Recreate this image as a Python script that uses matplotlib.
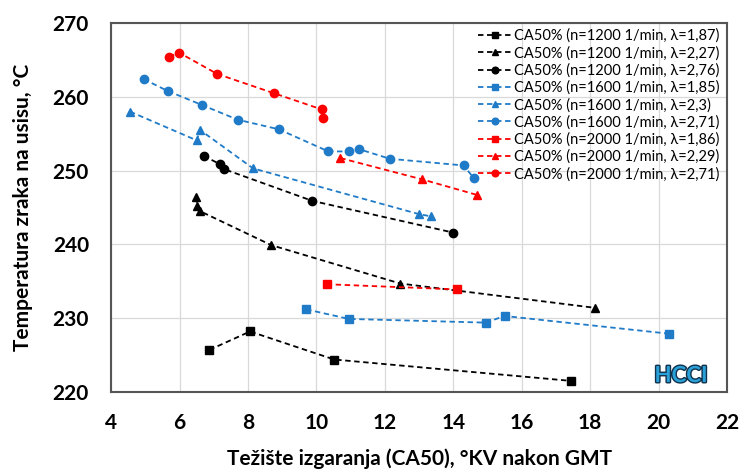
import matplotlib
matplotlib.use('Agg')
import matplotlib.pyplot as plt
import matplotlib.patheffects as pe

plt.rcParams['font.family'] = ['Lato', 'DejaVu Sans']

# --- podaci ---
x_1200_187 = [6.87, 8.06, 10.52, 17.45]
y_1200_187 = [225.7, 228.2, 224.4, 221.5]

x_1200_227 = [6.48, 6.52, 6.6, 8.68, 12.45, 18.15]
y_1200_227 = [246.4, 245.2, 244.5, 239.9, 234.7, 231.4]

x_1200_276 = [6.7, 7.17, 7.3, 9.88, 14.0]
y_1200_276 = [252.0, 250.9, 250.2, 245.9, 241.6]

x_1600_185 = [9.7, 10.95, 14.95, 15.5, 20.3]
y_1600_185 = [231.2, 229.9, 229.4, 230.3, 227.9]

x_1600_23 = [4.55, 6.5, 6.6, 8.15, 13.0, 13.35]
y_1600_23 = [258.0, 254.1, 255.5, 250.3, 244.1, 243.8]

x_1600_271 = [4.95, 5.65, 6.65, 7.7, 8.9, 10.35, 10.95, 11.25, 12.15, 14.3, 14.6]
y_1600_271 = [262.4, 260.8, 258.9, 256.9, 255.6, 252.6, 252.6, 252.9, 251.6, 250.7, 249.0]

x_2000_186 = [10.3, 14.1]
y_2000_186 = [234.6, 233.9]

x_2000_229 = [10.7, 13.1, 14.7]
y_2000_229 = [251.7, 248.8, 246.7]

x_2000_271 = [5.7, 5.98, 7.1, 8.75, 10.15, 10.2]
y_2000_271 = [265.4, 266.0, 263.1, 260.5, 258.3, 257.1]

labels = ['CA50% (n=1200 1/min, λ=1,87)',
          'CA50% (n=1200 1/min, λ=2,27)',
          'CA50% (n=1200 1/min, λ=2,76)',
          'CA50% (n=1600 1/min, λ=1,85)',
          'CA50% (n=1600 1/min, λ=2,3)',
          'CA50% (n=1600 1/min, λ=2,71)',
          'CA50% (n=2000 1/min, λ=1,86)',
          'CA50% (n=2000 1/min, λ=2,29)',
          'CA50% (n=2000 1/min, λ=2,71)']

xticks = [4, 6, 8, 10, 12, 14, 16, 18, 20, 22]
yticks = [220, 230, 240, 250, 260, 270]

black = '#000000'
blue = '#1f7bc8'
red = '#ff0000'

series = [
    (x_1200_187, y_1200_187, black, 's'),
    (x_1200_227, y_1200_227, black, '^'),
    (x_1200_276, y_1200_276, black, 'o'),
    (x_1600_185, y_1600_185, blue, 's'),
    (x_1600_23, y_1600_23, blue, '^'),
    (x_1600_271, y_1600_271, blue, 'o'),
    (x_2000_186, y_2000_186, red, 's'),
    (x_2000_229, y_2000_229, red, '^'),
    (x_2000_271, y_2000_271, red, 'o'),
]

fig = plt.figure(figsize=(7.41, 4.70), dpi=100)
ax = fig.add_axes([0.150, 0.166, 0.831, 0.785])

for (xs, ys, c, m), lab in zip(series, labels):
    ms = 6 if m != '^' else 5.5
    ax.plot(xs, ys, linestyle=(0, (3, 2)), lw=1.3, color=c, marker=m,
            markersize=ms, label=lab)

ax.set_xlim(4, 22)
ax.set_ylim(220, 270)
ax.set_xticks(xticks)
ax.set_yticks(yticks)
ax.grid(True, color='#d9d9d9', lw=0.9)
ax.set_axisbelow(True)
ax.tick_params(length=0, labelsize=15)
ax.tick_params(axis='x', pad=15)
ax.tick_params(axis='y', pad=16)
for t in ax.get_xticklabels() + ax.get_yticklabels():
    t.set_fontweight('bold')
for s in ax.spines.values():
    s.set_color('#555555')
    s.set_linewidth(1.5)

ax.set_xlabel('Težište izgaranja (CA50), °KV nakon GMT', fontsize=15,
              fontweight='bold', labelpad=11)
ax.set_ylabel('Temperatura zraka na usisu, °C', fontsize=15,
              fontweight='bold', labelpad=14)

leg = ax.legend(loc='upper right', bbox_to_anchor=(0.998, 1.0), frameon=False,
                fontsize=10.5, handlelength=2.3, handletextpad=0.2,
                labelspacing=0.2, borderaxespad=0.0, markerscale=0.8)

# natpis HCCI
txt = ax.text(0.968, 0.016, 'HCCI', transform=ax.transAxes, ha='right',
              va='bottom', fontsize=16, fontweight='bold', color='#2aa0d8')
txt.set_path_effects([pe.Stroke(linewidth=2.0, foreground='#10304a'),
                      pe.Normal()])

fig.savefig('out.png', dpi=100)
